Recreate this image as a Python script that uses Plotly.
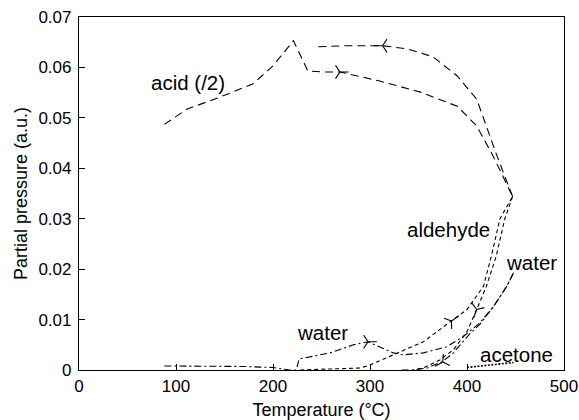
import plotly.graph_objects as go

# ---- data ----
acid_heat_T = [88, 111, 145, 179, 200, 221, 236, 252, 269, 310, 352, 390, 410, 427, 447]
acid_heat_P = [0.0487, 0.0517, 0.0541, 0.0567, 0.0603, 0.0653, 0.0593, 0.0591, 0.0591,
               0.0573, 0.0551, 0.0523, 0.0484, 0.0424, 0.0344]
acid_cool_T = [447, 431, 410, 390, 365, 338, 313, 276, 246]
acid_cool_P = [0.0344, 0.0424, 0.0537, 0.0583, 0.0621, 0.0637, 0.0643, 0.0643, 0.0641]

ald_heat_T = [228, 260, 290, 300, 328, 355, 383, 400, 417, 425, 434, 447]
ald_heat_P = [0.0, 0.0002, 0.0004, 0.001, 0.0034, 0.0056, 0.0096, 0.012, 0.0166, 0.0225, 0.030, 0.0344]
ald_cool_T = [447, 439, 430, 420, 410, 400, 386, 372, 355, 344]
ald_cool_P = [0.0344, 0.030, 0.0225, 0.0166, 0.012, 0.0076, 0.004, 0.002, 0.0004, 0.0]

water_heat_T = [88, 130, 170, 200, 217, 224, 227, 259, 283, 298, 310, 324, 334, 355, 379,
                396, 413, 427, 441, 448]
water_heat_P = [0.0008, 0.0008, 0.0007, 0.0005, 0.0, 0.0, 0.0022, 0.0034, 0.005, 0.0056,
                0.0046, 0.0034, 0.003, 0.0034, 0.0046, 0.0066, 0.0093, 0.0125, 0.0166, 0.0193]
water_cool_T = [448, 441, 427, 413, 403, 386, 375, 359, 344, 330]
water_cool_P = [0.0193, 0.0166, 0.0125, 0.009, 0.0072, 0.0034, 0.0017, 0.0004, 0.0, 0.0]

acetone_T = [400, 415, 430, 448]
acetone_P = [0.0005, 0.0008, 0.0011, 0.0015]

# direction arrows: (T, P, angle in degrees, clockwise from pointing right)
arrow_T = [269, 313, 298, 384, 410, 375]
arrow_P = [0.0591, 0.0643, 0.0056, 0.0097, 0.0120, 0.0016]
arrow_angle = [0, 180, 0, -35, 110, 150]

labels = ["acid (/2)", "aldehyde", "water", "water", "acetone"]
label_T = [112, 381, 466, 251, 451]
label_P = [0.0571, 0.0279, 0.0213, 0.0074, 0.0030]

x_ticks = [0, 100, 200, 300, 400, 500]
y_ticks = [0, 0.01, 0.02, 0.03, 0.04, 0.05, 0.06, 0.07]
y_ticktext = ["0", "0.01", "0.02", "0.03", "0.04", "0.05", "0.06", "0.07"]

FONT = "Liberation Sans, Arial, Helvetica, sans-serif"
fig = go.Figure()

def add_line(x, y, dash, width=1.1):
    fig.add_trace(go.Scatter(x=x, y=y, mode="lines",
                             line=dict(color="black", width=width, dash=dash),
                             showlegend=False, hoverinfo="skip"))

add_line(acid_heat_T, acid_heat_P, "8px,5px")
add_line(acid_cool_T, acid_cool_P, "8px,5px")
add_line(ald_heat_T, ald_heat_P, "4px,3px")
add_line(ald_cool_T, ald_cool_P, "4px,3px")
add_line(water_heat_T, water_heat_P, "7px,3px,2px,3px")
add_line(water_cool_T, water_cool_P, "7px,3px,2px,3px")
add_line(acetone_T, acetone_P, "2px,1.5px", width=1.6)

fig.add_trace(go.Scatter(x=arrow_T, y=arrow_P, mode="markers",
                         marker=dict(symbol="y-right", size=11, angle=arrow_angle,
                                     color="black", line=dict(color="black", width=1.1)),
                         showlegend=False, hoverinfo="skip"))

for t, x, y in zip(labels, label_T, label_P):
    fig.add_annotation(x=x, y=y, text=t, showarrow=False,
                       font=dict(family=FONT, size=20.5, color="black"))

fig.update_layout(
    width=579, height=420,
    margin=dict(l=79, r=15, t=17, b=50, autoexpand=False),
    paper_bgcolor="white", plot_bgcolor="white",
    font=dict(family=FONT, size=18, color="black"),
)
fig.update_xaxes(range=[0, 500], tickvals=x_ticks, ticks="inside", ticklen=6,
                 tickcolor="black", showline=True, linecolor="black", linewidth=1.2,
                 mirror=True, showgrid=False, zeroline=False, automargin=False,
                 title=dict(text="Temperature (°C)", standoff=9, font=dict(size=18)),
                 tickfont=dict(size=17))
fig.update_yaxes(range=[0, 0.07], tickvals=y_ticks, ticktext=y_ticktext, ticks="inside",
                 ticklen=6, tickcolor="black", showline=True, linecolor="black",
                 linewidth=1.2, mirror=True, showgrid=False, zeroline=False,
                 automargin=False, ticklabelstandoff=3,
                 title=dict(text="Partial pressure (a.u.)", standoff=6, font=dict(size=18)),
                 tickfont=dict(size=17))

fig.write_html("out.html")
